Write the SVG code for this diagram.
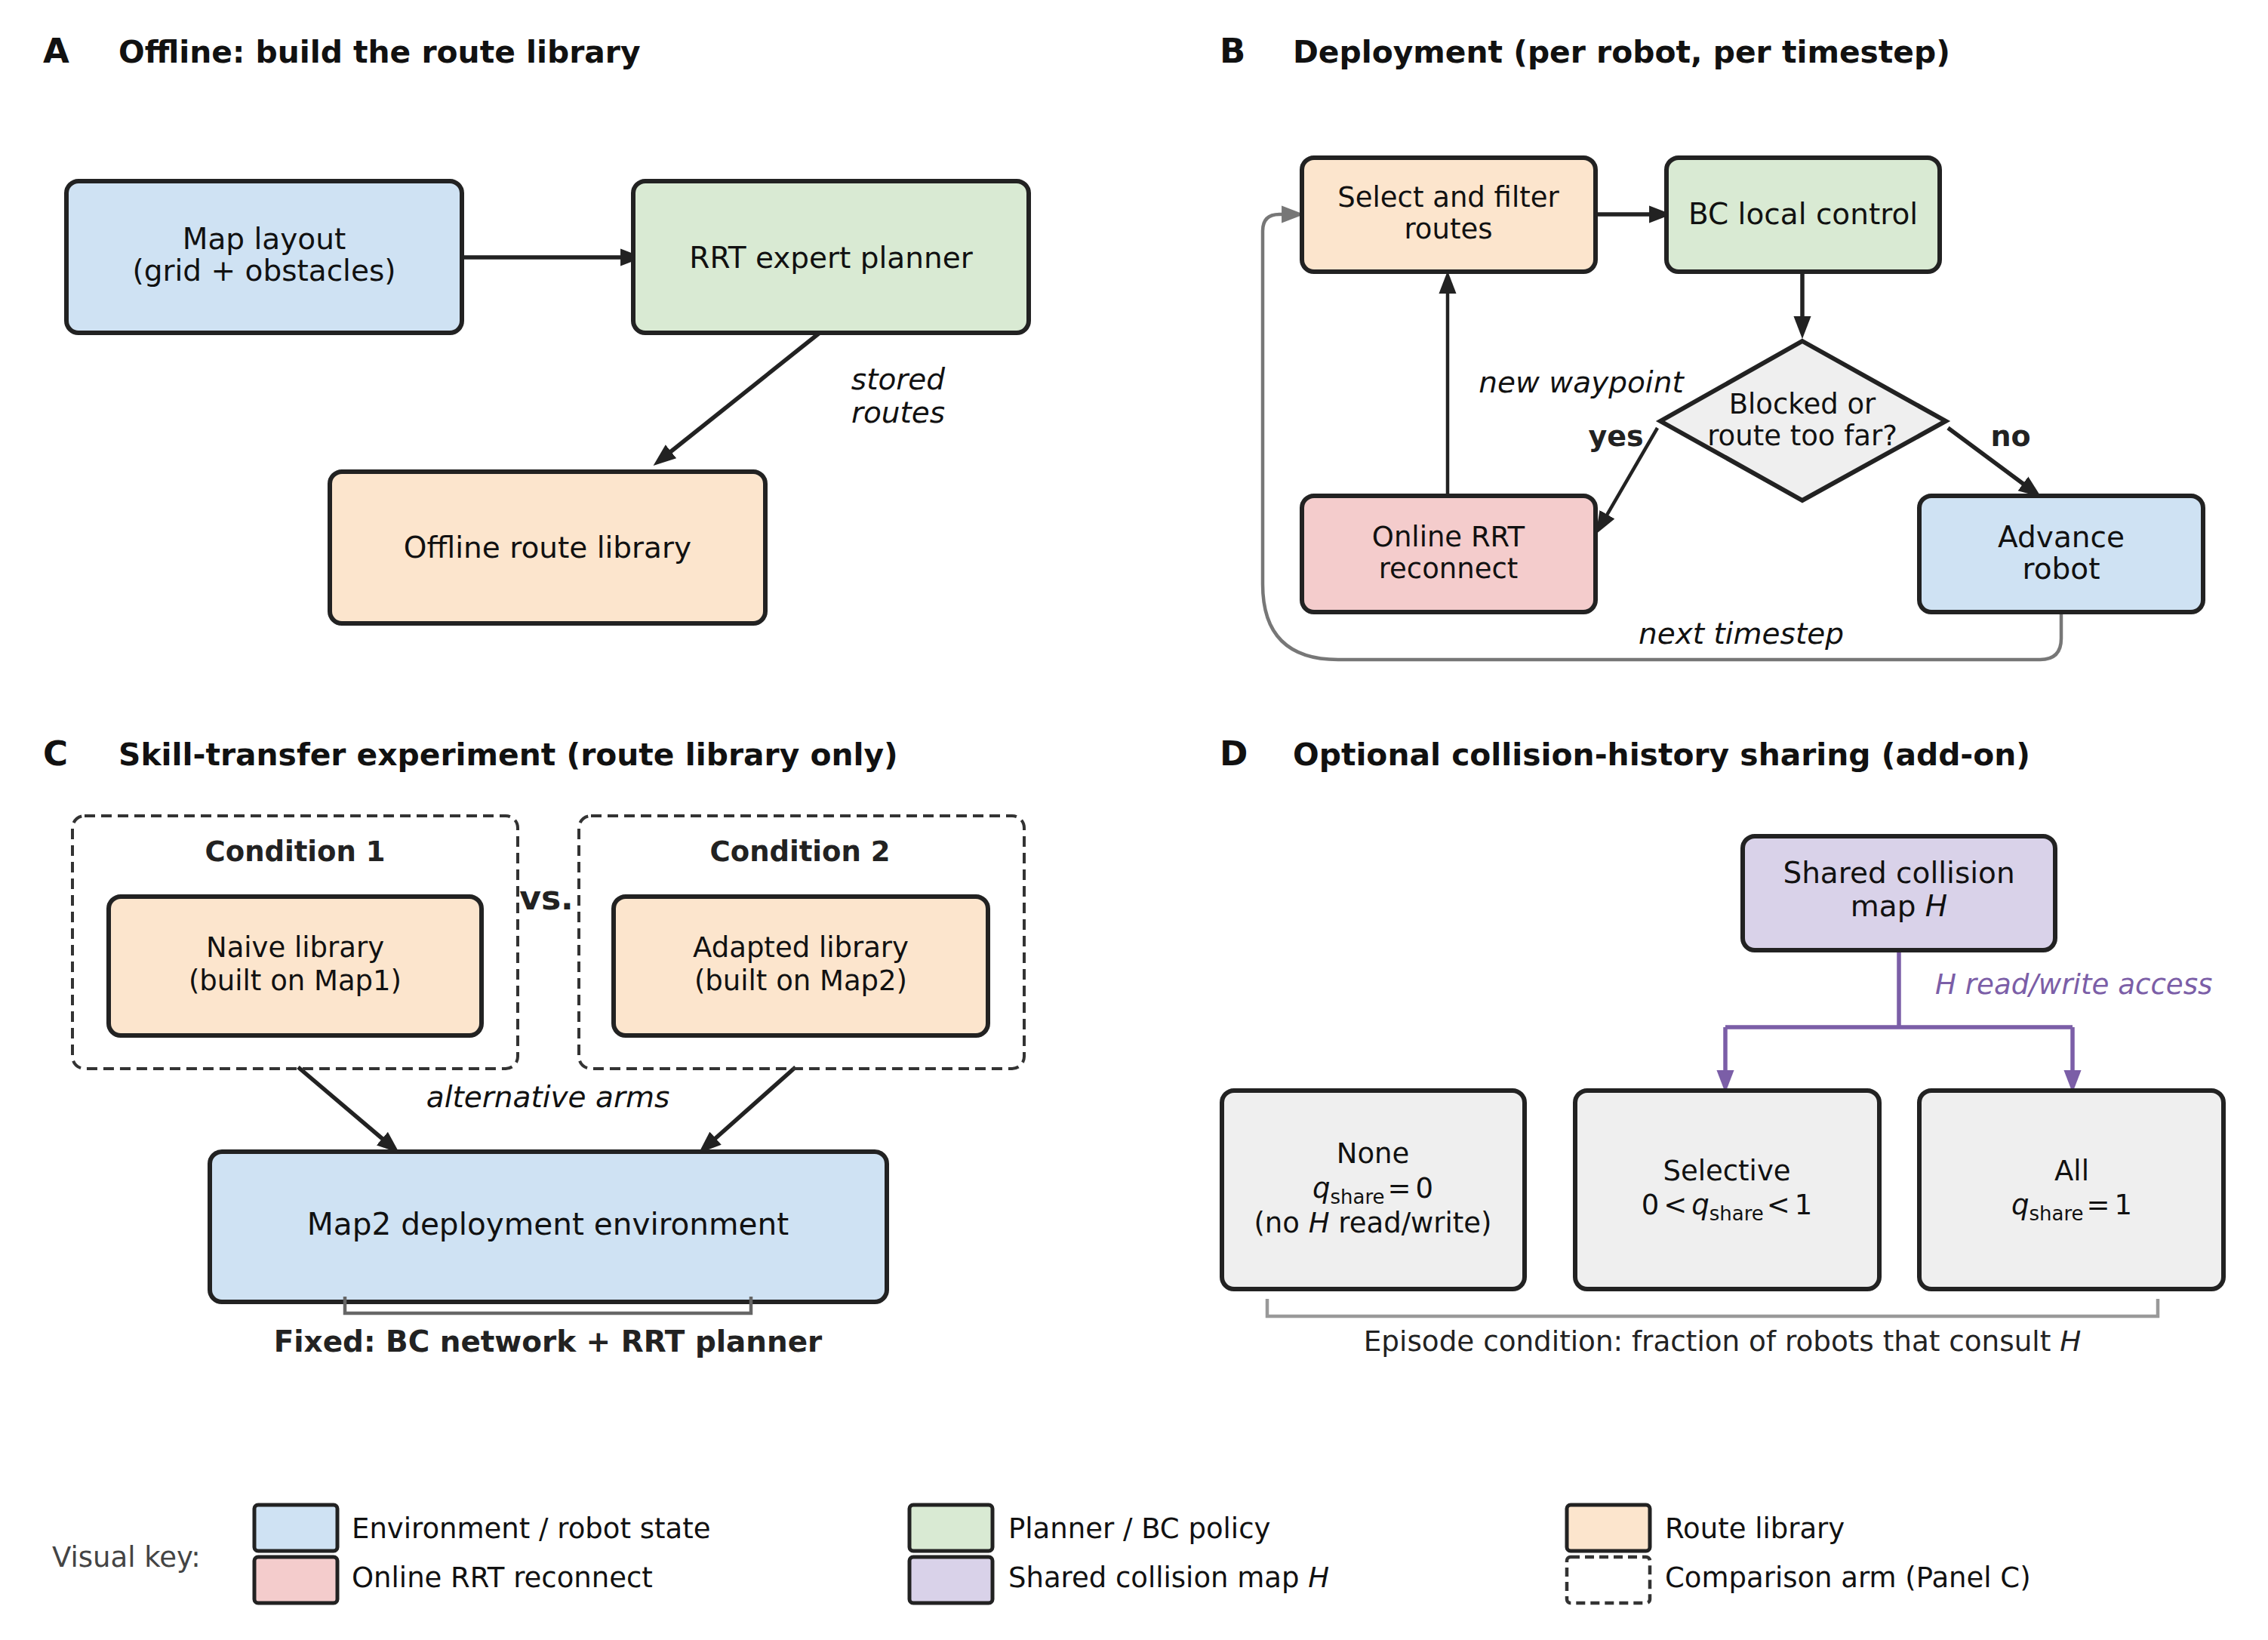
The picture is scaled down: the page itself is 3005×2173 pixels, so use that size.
<svg xmlns="http://www.w3.org/2000/svg" width="3005" height="2173" viewBox="0 0 3005 2173">
<style>
text{font-family:"DejaVu Sans","Liberation Sans",sans-serif;fill:#111}
.t{font-size:39px;text-anchor:middle}
.s{font-size:37px;text-anchor:middle}
.it{font-size:39px;font-style:italic;text-anchor:middle}
.title{font-size:40.8px;font-weight:bold}
.letter{font-size:45px;font-weight:bold}
.bold{font-size:38px;font-weight:bold;text-anchor:middle;fill:#222}
.box{stroke:#222;stroke-width:6}
.blue{fill:#cfe2f3}.green{fill:#d9ead3}.peach{fill:#fce5cd}.pink{fill:#f4cccc}.purple{fill:#d9d2e9}.grey{fill:#efefef}
.dash{fill:none;stroke:#333;stroke-width:4;stroke-dasharray:14 8}
.arr{fill:none;stroke:#222;stroke-width:5.5;marker-end:url(#ah)}
.gray{fill:none;stroke:#777;stroke-width:4.5}
.pl{fill:none;stroke:#7b5ea7;stroke-width:5.5}
.leg{font-size:37px}
</style>
<defs>
<marker id="ah" markerUnits="userSpaceOnUse" markerWidth="30" markerHeight="24" viewBox="0 0 26 20" refX="6" refY="10" orient="auto"><path d="M0,0 L26,10 L0,20 z" fill="#222"/></marker>
<marker id="ahg" markerUnits="userSpaceOnUse" markerWidth="30" markerHeight="24" viewBox="0 0 26 20" refX="6" refY="10" orient="auto"><path d="M0,0 L26,10 L0,20 z" fill="#777"/></marker>
<marker id="ahp" markerUnits="userSpaceOnUse" markerWidth="30" markerHeight="24" viewBox="0 0 26 20" refX="6" refY="10" orient="auto"><path d="M0,0 L26,10 L0,20 z" fill="#7b5ea7"/></marker>
</defs>
<rect width="3005" height="2173" fill="#fff"/>

<!-- Titles -->
<g id="titles">
<text class="letter" x="57" y="83">A</text>
<text class="title" x="157" y="83">Offline: build the route library</text>
<text class="letter" x="1616" y="83">B</text>
<text class="title" x="1713" y="83">Deployment (per robot, per timestep)</text>
<text class="letter" x="57" y="1014">C</text>
<text class="title" x="157" y="1014">Skill-transfer experiment (route library only)</text>
<text class="letter" x="1616" y="1014">D</text>
<text class="title" x="1713" y="1014">Optional collision-history sharing (add-on)</text>
</g>

<!-- Connectors -->
<g id="connectors">
<line class="arr" x1="598" y1="341" x2="829" y2="341"/>
<line class="arr" x1="1096" y1="433" x2="883.6" y2="602.5"/>
<line class="arr" x1="2102" y1="284" x2="2192" y2="284"/>
<line class="arr" x1="2388" y1="355" x2="2388" y2="426"/>
<line class="arr" x1="1918" y1="663" x2="1918" y2="382" style="stroke-width:4.5"/>
<line class="arr" x1="2196" y1="567" x2="2126" y2="687.7" style="stroke-width:4.5"/>
<line class="arr" x1="2581" y1="567" x2="2686" y2="645"/>
<path class="gray" d="M2731,811 L2731,846 Q2731,874 2703,874 L1773,874 Q1673,874 1673,774 L1673,306 Q1673,284 1695,284 L1705,284" marker-end="url(#ahg)"/>
<line class="arr" x1="395" y1="1414" x2="511.7" y2="1513.1"/>
<line class="arr" x1="1054" y1="1414" x2="942.9" y2="1512.7"/>
<path class="pl" d="M2516,1250 L2516,1361 M2286,1361 L2746,1361"/>
<line class="pl" x1="2286" y1="1361" x2="2286" y2="1425" marker-end="url(#ahp)"/>
<line class="pl" x1="2746" y1="1361" x2="2746" y2="1425" marker-end="url(#ahp)"/>
<text x="2564" y="1317" style="font-size:37.2px;font-style:italic;fill:#7b5ea7">H read/write access</text>
<text class="it" x="1190" y="516">stored</text>
<text class="it" x="1190" y="560">routes</text>
<text class="it" x="2095" y="520">new waypoint</text>
<text class="bold" x="2141" y="591">yes</text>
<text class="bold" x="2664" y="591">no</text>
<text class="it" x="2307" y="853">next timestep</text>
<text class="it" x="726" y="1467">alternative arms</text>
</g>

<!-- Panel A nodes -->
<g id="map-layout"><rect class="box blue" x="88" y="240" width="524" height="201" rx="16"/>
<text class="t" x="350" y="330">Map layout</text><text class="t" x="350" y="372">(grid + obstacles)</text></g>
<g id="rrt-expert"><rect class="box green" x="839" y="240" width="524" height="201" rx="16"/>
<text class="t" x="1101" y="355">RRT expert planner</text></g>
<g id="offline-library"><rect class="box peach" x="437" y="625" width="577" height="201" rx="16"/>
<text class="t" x="725.5" y="739">Offline route library</text></g>

<!-- Panel B nodes -->
<g id="select-filter"><rect class="box peach" x="1725" y="209" width="389" height="151" rx="16"/>
<text class="s" x="1919" y="274">Select and filter</text><text class="s" x="1919" y="316">routes</text></g>
<g id="bc-local"><rect class="box green" x="2208" y="209" width="362" height="151" rx="16"/>
<text class="t" x="2389" y="297">BC local control</text></g>
<g id="decision"><polygon class="box grey" points="2388,452 2578,558 2388,663 2200,558"/>
<text class="s" x="2388" y="548">Blocked or</text><text class="s" x="2388" y="590">route too far?</text></g>
<g id="online-rrt"><rect class="box pink" x="1725" y="657" width="389" height="154" rx="16"/>
<text class="s" x="1919" y="724">Online RRT</text><text class="s" x="1919" y="766">reconnect</text></g>
<g id="advance-robot"><rect class="box blue" x="2543" y="657" width="376" height="154" rx="16"/>
<text class="t" x="2731" y="725">Advance</text><text class="t" x="2731" y="767">robot</text></g>

<!-- Panel C nodes -->
<g id="condition-1"><rect class="dash" x="96" y="1081" width="590" height="335" rx="16"/>
<text class="bold" x="391" y="1141" style="font-size:37px">Condition 1</text>
<rect class="box peach" x="144" y="1188" width="494" height="184" rx="16"/>
<text class="s" x="391" y="1268">Naive library</text><text class="s" x="391" y="1312">(built on Map1)</text></g>
<g id="condition-2"><rect class="dash" x="767" y="1081" width="590" height="335" rx="16"/>
<text class="bold" x="1060" y="1141" style="font-size:37px">Condition 2</text>
<rect class="box peach" x="813" y="1188" width="496" height="184" rx="16"/>
<text class="s" x="1061" y="1268">Adapted library</text><text class="s" x="1061" y="1312">(built on Map2)</text></g>
<g id="vs"><text x="724" y="1205" style="font-size:44px;font-weight:bold;text-anchor:middle;fill:#222">vs.</text></g>
<g id="map2-env"><rect class="box blue" x="278" y="1526" width="897" height="199" rx="16"/>
<text class="t" x="726" y="1636" style="font-size:40.6px">Map2 deployment environment</text></g>
<g id="fixed-bracket"><path class="gray" d="M457,1718 L457,1740 L995,1740 L995,1718" style="stroke:#666"/>
<text class="bold" x="726" y="1791" style="font-size:38.9px">Fixed: BC network + RRT planner</text></g>

<!-- Panel D nodes -->
<g id="shared-map"><rect class="box purple" x="2309" y="1108" width="414" height="151" rx="16"/>
<text class="t" x="2516" y="1170">Shared collision</text><text class="t" x="2516" y="1214">map <tspan font-style="italic">H</tspan></text></g>
<g id="share-none"><rect class="box grey" x="1619" y="1445" width="401" height="263" rx="16"/>
<text class="s" x="1819" y="1541">None</text>
<text class="s" x="1819" y="1587"><tspan font-style="italic">q</tspan><tspan font-size="26" dy="8">share</tspan><tspan dy="-8" dx="4">=</tspan><tspan dx="6">0</tspan></text>
<text class="s" x="1819" y="1633">(no <tspan font-style="italic">H</tspan> read/write)</text></g>
<g id="share-selective"><rect class="box grey" x="2087" y="1445" width="403" height="263" rx="16"/>
<text class="s" x="2288" y="1564">Selective</text>
<text class="s" x="2288" y="1609">0<tspan dx="6">&lt;</tspan><tspan dx="6" font-style="italic">q</tspan><tspan font-size="26" dy="8">share</tspan><tspan dy="-8" dx="4">&lt;</tspan><tspan dx="6">1</tspan></text></g>
<g id="share-all"><rect class="box grey" x="2543" y="1445" width="403" height="263" rx="16"/>
<text class="s" x="2745" y="1564">All</text>
<text class="s" x="2745" y="1609"><tspan font-style="italic">q</tspan><tspan font-size="26" dy="8">share</tspan><tspan dy="-8" dx="4">=</tspan><tspan dx="6">1</tspan></text></g>
<g id="episode-bracket"><path class="gray" d="M1679,1721 L1679,1744 L2859,1744 L2859,1721" style="stroke:#999"/>
<text x="2282" y="1790" style="font-size:37.3px;text-anchor:middle;fill:#222">Episode condition: fraction of robots that consult <tspan font-style="italic">H</tspan></text></g>

<!-- Legend -->
<g id="legend">
<text class="leg" x="69" y="2076" style="fill:#444">Visual key:</text>
<rect class="blue" x="337" y="1994" width="110" height="61" rx="5" stroke="#222" stroke-width="5"/>
<text class="leg" x="466" y="2038">Environment / robot state</text>
<rect class="pink" x="337" y="2063" width="110" height="61" rx="5" stroke="#222" stroke-width="5"/>
<text class="leg" x="466" y="2103">Online RRT reconnect</text>
<rect class="green" x="1205" y="1994" width="110" height="61" rx="5" stroke="#222" stroke-width="5"/>
<text class="leg" x="1336" y="2038">Planner / BC policy</text>
<rect class="purple" x="1205" y="2063" width="110" height="61" rx="5" stroke="#222" stroke-width="5"/>
<text class="leg" x="1336" y="2103">Shared collision map <tspan font-style="italic">H</tspan></text>
<rect class="peach" x="2076" y="1994" width="110" height="61" rx="5" stroke="#222" stroke-width="5"/>
<text class="leg" x="2206" y="2038">Route library</text>
<rect x="2076" y="2063" width="110" height="61" rx="5" fill="#fff" stroke="#333" stroke-width="4.5" stroke-dasharray="12 7"/>
<text class="leg" x="2206" y="2103">Comparison arm (Panel C)</text>
</g>
</svg>
